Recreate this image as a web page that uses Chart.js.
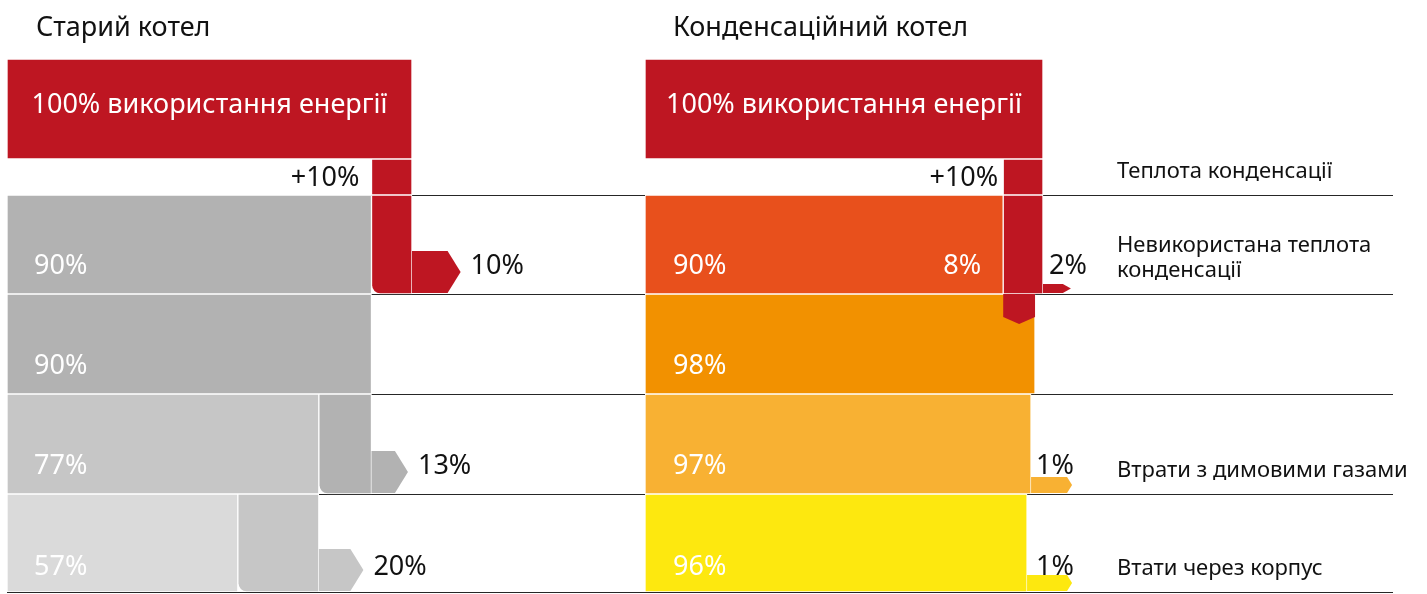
<!DOCTYPE html>
<html lang="uk">
<head>
<meta charset="utf-8">
<title>Старий котел / Конденсаційний котел</title>
<script src="https://cdn.jsdelivr.net/npm/chart.js@4.4.1/dist/chart.umd.min.js"></script>
<style>
    html, body { margin: 0; padding: 0; background: #fff; }
    .board { position: relative; width: 1427px; height: 594px; overflow: hidden; }
    #old-boiler { position: absolute; left: 0; top: 0; }
    #cond-boiler { position: absolute; left: 645px; top: 0; }
</style>
</head>
<body>
<div class="board">
    <canvas id="old-boiler" width="645" height="594"></canvas>
    <canvas id="cond-boiler" width="782" height="594"></canvas>
</div>
<script>
// energy flows, % of the fuel input
const totalInput = 100;
const condensationGain = 10;

const oldUseful = [90, 90, 77, 57];
const oldLoss = [10, 0, 13, 20];
const oldArrowEnd = [112, 0, 99, 88];

const condUseful = [90, 98, 97, 96];
const condRecovered = 8;
const condLoss = [2, 0, 1, 1];
const condArrowEnd = [107, 0, 107.3, 107.3];

const panelTitles = ['Старий котел', 'Конденсаційний котел'];
const gainNote = 'Теплота конденсації';
const rowNotes = [['Невикористана теплота', 'конденсації'], [], ['Втрати з димовими газами'], ['Втати через корпус']];

const FONT = '"Noto Sans", "DejaVu Sans", sans-serif';
const RED = '#be1622';
const oldColors = ['#b2b2b2', '#b2b2b2', '#c6c6c6', '#dadada'];
const oldLossColors = [RED, null, '#b2b2b2', '#c6c6c6'];
const condColors = ['#e8501c', '#f29100', '#f8b133', '#fde80f'];

// vertical bands: header, gain strip, four rows (in pixels, 1 unit = 1px)
const bandHeights = [100, 36, 99, 100, 100, 98];
const bandEdges = bandHeights.reduce((acc, h) => { acc.push(acc[acc.length - 1] + h); return acc; }, [0]);
const bandMid = i => (bandEdges[i] + bandEdges[i + 1]) / 2;
const bandBottom = i => bandEdges[i + 1];
// how far the row labels sit above the bottom of their row
const labelLift = [20, 20, 20, 17];

function bar(range, band, color, extra) {
    return Object.assign({
        data: [{ x: range, y: bandMid(band) }],
        barThickness: bandHeights[band],
        backgroundColor: color
    }, extra || {});
}

// arrow pointing right, sitting on the bottom of a band
function arrow(range, band, color, thickness, tip) {
    return {
        data: [{ x: range, y: bandBottom(band) - 1 - thickness / 2 }],
        barThickness: thickness,
        backgroundColor: color,
        shape: 'right',
        tip: tip
    };
}

const arrowShapes = {
    id: 'arrowShapes',
    beforeDatasetDraw(chart, args) {
        const ds = chart.data.datasets[args.index];
        if (!ds.shape) return;
        const ctx = chart.ctx;
        ctx.save();
        ctx.fillStyle = ds.backgroundColor;
        args.meta.data.forEach(el => {
            const { x, y, base, height } = el.getProps(['x', 'y', 'base', 'height'], true);
            const top = y - height / 2;
            const bottom = y + height / 2;
            ctx.beginPath();
            if (ds.shape === 'right') {
                const tip = Math.min(ds.tip, x - base);
                ctx.moveTo(base, top);
                ctx.lineTo(x - tip, top);
                ctx.lineTo(x, y);
                ctx.lineTo(x - tip, bottom);
                ctx.lineTo(base, bottom);
            } else {
                const mid = (base + x) / 2;
                ctx.moveTo(base, top);
                ctx.lineTo(x, top);
                ctx.lineTo(x, bottom - ds.tip);
                ctx.lineTo(mid, bottom);
                ctx.lineTo(base, bottom - ds.tip);
            }
            ctx.closePath();
            ctx.fill();
        });
        ctx.restore();
        return false;
    }
};

const panelText = {
    id: 'panelText',
    afterDraw(chart, args, opts) {
        const ctx = chart.ctx;
        const xs = chart.scales.x;
        const ys = chart.scales.y;
        const px = v => xs.getPixelForValue(v);
        const py = v => ys.getPixelForValue(v);
        ctx.save();
        ctx.textBaseline = 'alphabetic';
        opts.items.forEach(t => {
            ctx.font = (t.size || 27) + 'px ' + FONT;
            ctx.fillStyle = t.color || '#111';
            ctx.textAlign = t.align || 'left';
            const x = t.px !== undefined ? chart.chartArea.left + t.px : px(t.x) + (t.dx || 0);
            const y = t.py !== undefined ? t.py : py(t.y) + (t.dy || 0);
            ctx.fillText(t.text, x, y);
        });
        ctx.restore();
    }
};

function makeChart(id, datasets, texts, padding, xMax) {
    return new Chart(document.getElementById(id), {
        type: 'bar',
        data: { datasets },
        options: {
            indexAxis: 'y',
            responsive: false,
            animation: false,
            layout: { padding },
            datasets: {
                bar: {
                    grouped: false,
                    borderSkipped: false,
                    borderColor: '#ffffff',
                    borderWidth: 1
                }
            },
            scales: {
                x: { type: 'linear', min: 0, max: xMax, display: false },
                y: {
                    type: 'linear',
                    reverse: true,
                    offset: false,
                    min: 0,
                    max: bandEdges[bandEdges.length - 1],
                    afterBuildTicks: s => { s.ticks = bandEdges.slice(2).map(v => ({ value: v })); },
                    afterFit: s => { s.width = 0; },
                    ticks: { display: false },
                    grid: { color: '#262626', lineWidth: 1, drawTicks: false, offset: false },
                    border: { display: false }
                }
            },
            plugins: {
                legend: { display: false },
                tooltip: { enabled: false },
                panelText: { items: texts }
            }
        },
        plugins: [arrowShapes, panelText]
    });
}

// ---- old boiler ----
const oldSets = [];
const oldTexts = [
    { text: panelTitles[0], px: 29, py: 36 },
    { text: totalInput + '% використання енергії', x: totalInput / 2, y: bandBottom(0), dy: -46, align: 'center', color: '#fff' },
    { text: '+' + condensationGain + '%', x: totalInput - condensationGain, dx: -12, y: bandBottom(1), dy: -9, align: 'right' }
];
oldUseful.forEach((v, i) => {
    const band = i + 2;
    if (oldLoss[i] > 0) {
        oldSets.push(arrow([v + oldLoss[i], oldArrowEnd[i]], band, oldLossColors[i], 42, 13));
        oldSets.push(bar([v, v + oldLoss[i]], band, oldLossColors[i], { borderRadius: { bottomLeft: 9 } }));
        oldTexts.push({ text: oldLoss[i] + '%', x: oldArrowEnd[i], dx: 10, y: bandBottom(band), dy: -labelLift[i] });
    }
    oldTexts.push({ text: v + '%', px: 27, y: bandBottom(band), dy: -labelLift[i], color: '#fff' });
});
oldSets.push(bar([totalInput - condensationGain, totalInput], 1, RED));
oldSets.push(bar([0, totalInput], 0, RED));
oldUseful.forEach((v, i) => oldSets.push(bar([0, v], i + 2, oldColors[i])));

makeChart('old-boiler', oldSets, oldTexts, { left: 7, right: 0, top: 59, bottom: 2 }, 638 / 4.05);

// ---- condensing boiler ----
const condSets = [];
const condTexts = [
    { text: panelTitles[1], px: 28, py: 36 },
    { text: totalInput + '% використання енергії', x: totalInput / 2, y: bandBottom(0), dy: -46, align: 'center', color: '#fff' },
    { text: '+' + condensationGain + '%', x: totalInput - condensationGain, dx: -5, y: bandBottom(1), dy: -9, align: 'right' },
    { text: gainNote, px: 472, y: bandBottom(1), dy: -17, size: 22 }
];
const gainStart = totalInput - condensationGain;
// recovered condensation heat drops into the next row
condSets.push({
    data: [{ x: [gainStart, gainStart + condRecovered], y: bandEdges[3] + 15 }],
    barThickness: 30,
    backgroundColor: RED,
    shape: 'down',
    tip: 7
});
condUseful.forEach((v, i) => {
    const band = i + 2;
    if (condLoss[i] > 0) {
        const from = i === 0 ? totalInput : v;
        const color = i === 0 ? RED : condColors[i];
        const thick = i === 0 ? 9 : 16;
        const tip = i === 0 ? 8 : 5;
        condSets.push(arrow([from, condArrowEnd[i]], band, color, thick, tip));
        condTexts.push({ text: condLoss[i] + '%', x: totalInput, dx: i === 0 ? 6 : -7, y: bandBottom(band), dy: -labelLift[i] });
    }
    condTexts.push({ text: v + '%', px: 28, y: bandBottom(band), dy: -labelLift[i], color: '#fff' });
    const note = rowNotes[i];
    note.forEach((line, k) => {
        condTexts.push({ text: line, px: 472, y: bandBottom(band), dy: -17 - 25 * (note.length - 1 - k), size: 22 });
    });
});
condTexts.push({ text: condRecovered + '%', x: gainStart, dx: -22, y: bandBottom(2), dy: -labelLift[0], align: 'right', color: '#fff' });
condSets.push(bar([gainStart, totalInput], 2, RED));
condSets.push(bar([gainStart, totalInput], 1, RED));
condSets.push(bar([0, totalInput], 0, RED));
condUseful.forEach((v, i) => condSets.push(bar([0, v], i + 2, condColors[i])));

makeChart('cond-boiler', condSets, condTexts, { left: 0, right: 34, top: 59, bottom: 2 }, 748 / 3.98);
</script>
</body>
</html>
